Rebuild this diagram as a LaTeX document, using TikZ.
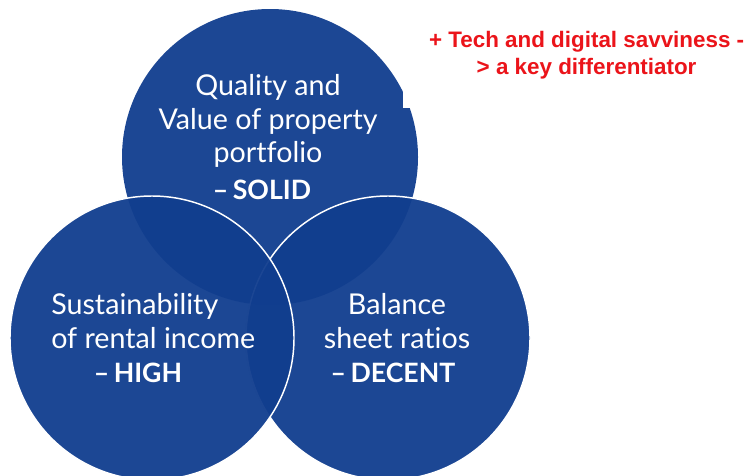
\documentclass[tikz,border=0pt]{standalone}
\usepackage{fontspec}
\newfontfamily\circfont[Ligatures=NoCommon]{Lato}
\newfontfamily\notefont{Liberation Sans}

\definecolor{vennblue}{RGB}{16,61,142}
\definecolor{notered}{RGB}{235,20,26}

\tikzset{
    venn/.style={circle, fill=vennblue, fill opacity=0.95, inner sep=0pt},
    vennedge/.style={venn, draw=white, draw opacity=1, line width=1.1pt},
    label text/.style={text=white, font=\circfont\fontsize{21.5}{25}\selectfont, align=center},
    rating/.style={text=white, font=\circfont\bfseries\fontsize{20}{25}\selectfont}
}

\begin{document}
\begin{tikzpicture}[x=0.75pt, y=-0.75pt]
    \useasboundingbox (0, 0) rectangle (748, 475);
    \clip (0, 0) rectangle (748, 475);

    % the three circles, top one first
    \node[venn, minimum size=222pt] (quality) at (270, 157) {};
    \node[vennedge, minimum size=213pt] (balance) at (388, 338) {};
    \node[vennedge, minimum size=213pt] (rental) at (152, 338) {};

    \node[label text] (qualitytext) at (268, 121) {Quality and\\Value of property\\portfolio};
    \node[rating] (solid) at (262, 190) {–\,SOLID};

    \node[label text, align=left, anchor=west, inner xsep=0pt] (rentaltext) at (51, 321) {Sustainability\\of rental income};
    \node[rating] (high) at (138, 373) {–\,HIGH};

    \node[label text] (balancetext) at (397, 321) {Balance\\sheet ratios};
    \node[rating] (decent) at (393, 373) {–\,DECENT};

    % note box, its white ground covers the circle edge
    \node[fill=white, anchor=south west, minimum width=275pt, minimum height=79pt,
          text=notered, align=center, font=\notefont\bfseries\fontsize{16.8}{19.8}\selectfont]
        (note) at (403, 108) {+ Tech and digital savviness -\\> a key differentiator};
\end{tikzpicture}
\end{document}
